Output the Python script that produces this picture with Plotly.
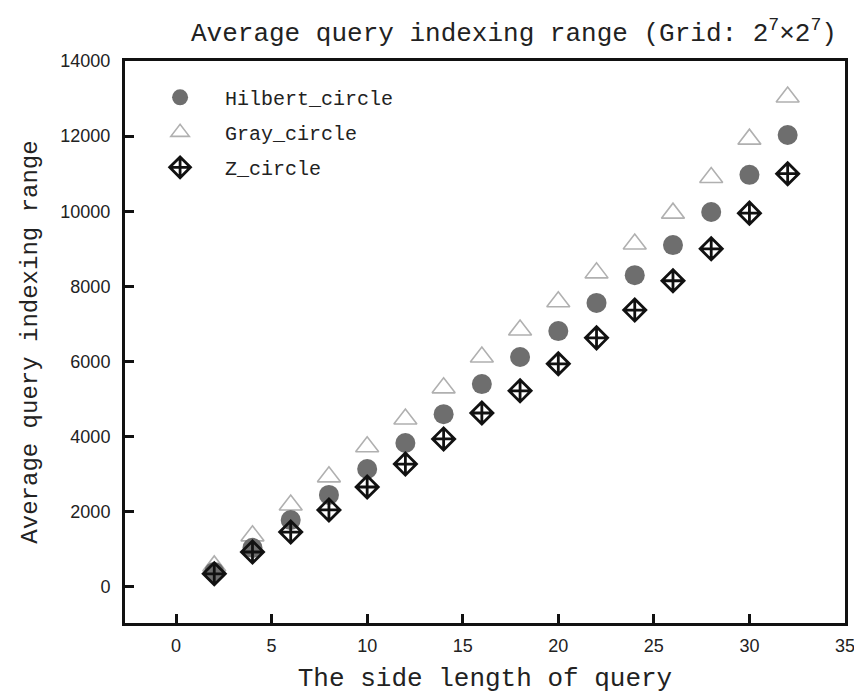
import plotly.graph_objects as go

side_length = [2, 4, 6, 8, 10, 12, 14, 16, 18, 20, 22, 24, 26, 28, 30, 32]
hilbert_circle = [400, 1040, 1780, 2450, 3140, 3830, 4600, 5400, 6120, 6810, 7560, 8300, 9100, 9980, 10970, 12030]
gray_circle = [560, 1360, 2180, 2930, 3730, 4470, 5300, 6120, 6840, 7590, 8360, 9130, 9950, 10900, 11920, 13040]
z_circle = [350, 930, 1460, 2050, 2660, 3270, 3940, 4630, 5220, 5940, 6630, 7370, 8150, 9000, 9950, 11000]

x_ticks = [0, 5, 10, 15, 20, 25, 30, 35]
y_ticks = [0, 2000, 4000, 6000, 8000, 10000, 12000, 14000]

mono = "Liberation Mono"
sans = "Liberation Sans"

fig = go.Figure()
fig.add_trace(go.Scatter(
    x=side_length, y=gray_circle, mode="markers", name="Gray_circle",
    legendgroup="g", legendrank=2,
    marker=dict(symbol="triangle-up-open", size=20, color="#b0b0b0", line=dict(width=1.6, color="#b0b0b0")),
))
fig.add_trace(go.Scatter(
    x=side_length, y=hilbert_circle, mode="markers", name="Hilbert_circle",
    legendgroup="h", legendrank=1,
    marker=dict(symbol="circle", size=20, color="#6e6e6e", line=dict(width=0)),
))
fig.add_trace(go.Scatter(
    x=side_length, y=z_circle, mode="markers", name="Z_circle",
    legendgroup="z", legendrank=3,
    marker=dict(symbol="diamond-cross-open", size=17, color="#111111", line=dict(width=2.8, color="#111111")),
))

axis_common = dict(
    showline=True, linecolor="#111111", linewidth=3, mirror=True,
    ticks="inside", ticklen=9, tickwidth=2.5, tickcolor="#111111",
    showgrid=False, zeroline=False, automargin=False,
    tickfont=dict(family=sans, size=18, color="#222222"),
)

fig.update_layout(
    width=854, height=687,
    paper_bgcolor="white", plot_bgcolor="white",
    margin=dict(l=117, r=17, t=53, b=72),
    title=dict(
        text="Average query indexing range (Grid: 2<sup>7</sup>×2<sup>7</sup>)",
        font=dict(family=mono, size=26, color="#222222"),
        x=0.5925, xanchor="center", y=0.965, yanchor="middle",
    ),
    xaxis=dict(
        range=[-2.67, 35], tickvals=x_ticks, ticktext=[str(v) for v in x_ticks],
        title=dict(text="The side length of query", font=dict(family=mono, size=26, color="#222222"), standoff=14),
        ticklabelstandoff=4,
        **axis_common,
    ),
    yaxis=dict(
        range=[-960, 14000], tickvals=y_ticks, ticktext=[str(v) for v in y_ticks],
        title=dict(text="Average query indexing range", font=dict(family=mono, size=24, color="#222222"), standoff=16),
        ticklabelstandoff=8,
        **axis_common,
    ),
    legend=dict(
        x=0.014, y=0.970, xanchor="left", yanchor="top",
        font=dict(family=mono, size=20, color="#222222"),
        bgcolor="rgba(0,0,0,0)", tracegroupgap=6, itemwidth=80,
    ),
)

fig.write_html("out.html")
